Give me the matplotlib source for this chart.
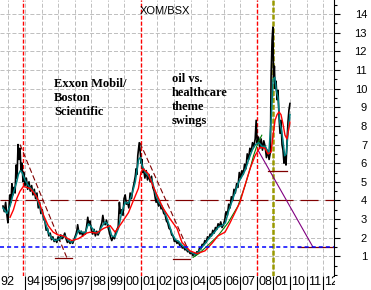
import numpy as np
import matplotlib
matplotlib.use("Agg")
import matplotlib.pyplot as plt
from matplotlib.patches import Rectangle
from matplotlib.ticker import MultipleLocator, NullFormatter

# XOM/BSX ratio (decimal years)
bk_year = [1992.67, 1992.75, 1992.83, 1992.91, 1992.97, 1993.03, 1993.09, 1993.15, 1993.21, 1993.27,
           1993.33, 1993.40, 1993.46, 1993.52, 1993.58, 1993.64, 1993.70, 1993.76, 1993.82, 1993.88,
           1993.94, 1994.00, 1994.08, 1994.16, 1994.24, 1994.32, 1994.40, 1994.48, 1994.56, 1994.64,
           1994.72, 1994.80, 1994.88, 1994.96, 1995.04, 1995.12, 1995.20, 1995.28, 1995.36, 1995.44,
           1995.52, 1995.60, 1995.68, 1995.76, 1995.84, 1995.92, 1996.00, 1996.08, 1996.16, 1996.24,
           1996.32, 1996.40, 1996.48, 1996.56, 1996.64, 1996.72, 1996.80, 1996.88, 1996.96, 1997.04,
           1997.12, 1997.18, 1997.24, 1997.32, 1997.40, 1997.48, 1997.56, 1997.64, 1997.72, 1997.79,
           1997.85, 1997.93, 1998.01, 1998.09, 1998.17, 1998.25, 1998.33, 1998.41, 1998.49, 1998.57,
           1998.64, 1998.70, 1998.76, 1998.84, 1998.92, 1999.00, 1999.08, 1999.16, 1999.24, 1999.32,
           1999.40, 1999.48, 1999.56, 1999.63, 1999.70, 1999.76, 1999.84, 1999.92, 1999.98, 2000.05,
           2000.12, 2000.20, 2000.27, 2000.35, 2000.43, 2000.51, 2000.58, 2000.66, 2000.71, 2000.76,
           2000.81, 2000.86, 2000.90, 2000.96, 2001.01, 2001.06, 2001.11, 2001.16, 2001.24, 2001.32,
           2001.40, 2001.48, 2001.56, 2001.64, 2001.72, 2001.80, 2001.87, 2001.92, 2001.98, 2002.06,
           2002.14, 2002.22, 2002.30, 2002.38, 2002.46, 2002.54, 2002.62, 2002.70, 2002.78, 2002.86,
           2002.94, 2003.02, 2003.10, 2003.18, 2003.26, 2003.34, 2003.42, 2003.50, 2003.58, 2003.66,
           2003.74, 2003.82, 2003.90, 2003.98, 2004.06, 2004.14, 2004.22, 2004.30, 2004.38, 2004.46,
           2004.54, 2004.62, 2004.70, 2004.78, 2004.86, 2004.94, 2005.02, 2005.10, 2005.18, 2005.26,
           2005.34, 2005.42, 2005.50, 2005.58, 2005.66, 2005.74, 2005.82, 2005.90, 2005.98, 2006.06,
           2006.14, 2006.22, 2006.30, 2006.38, 2006.46, 2006.54, 2006.62, 2006.70, 2006.78, 2006.86,
           2006.94, 2007.02, 2007.10, 2007.18, 2007.26, 2007.34, 2007.42, 2007.50, 2007.58, 2007.66,
           2007.74, 2007.82, 2007.90, 2007.96, 2008.02, 2008.10, 2008.18, 2008.26, 2008.34, 2008.42,
           2008.50, 2008.58, 2008.66, 2008.74, 2008.82, 2008.86, 2008.92, 2008.97, 2009.01, 2009.06,
           2009.10, 2009.16, 2009.22, 2009.28, 2009.34, 2009.40, 2009.46, 2009.52, 2009.58, 2009.64,
           2009.70, 2009.76, 2009.82, 2009.88, 2009.94, 2010.00]
bk_val = [3.7, 3.4, 3.9, 3.2, 2.8, 3.6, 4.3, 3.9, 4.9, 4.3,
          4.7, 4.4, 5.9, 5.2, 7.0, 6.2, 6.8, 5.6, 6.0, 5.0,
          5.5, 4.8, 5.2, 4.6, 5.0, 4.5, 4.8, 4.3, 4.6, 4.1,
          4.4, 3.6, 3.9, 3.3, 3.5, 3.0, 2.9, 2.4, 2.5, 2.1,
          2.25, 1.9, 2.05, 1.8, 1.9, 1.75, 2.05, 1.85, 2.15, 1.95,
          2.05, 2.25, 1.95, 1.75, 1.85, 1.7, 1.8, 1.7, 1.9, 2.1,
          2.3, 2.7, 2.35, 2.2, 2.35, 2.1, 2.3, 2.2, 2.6, 3.1,
          2.7, 2.9, 2.4, 2.2, 2.45, 2.1, 2.35, 2.15, 2.3, 2.6,
          2.8, 3.2, 2.85, 2.7, 2.95, 2.6, 2.35, 2.05, 1.85, 2.05,
          1.95, 2.3, 2.45, 2.6, 3.9, 3.3, 3.5, 3.2, 4.1, 4.3,
          3.8, 3.9, 3.6, 4.4, 4.1, 4.6, 4.9, 5.3, 5.7, 5.4,
          6.4, 6.8, 7.1, 6.6, 6.0, 6.2, 5.5, 5.7, 5.2, 5.6,
          5.1, 5.4, 5.0, 5.3, 4.7, 4.5, 4.1, 3.9, 4.1, 3.7,
          3.9, 3.55, 3.6, 3.3, 3.25, 2.9, 2.8, 2.5, 2.45, 2.15,
          2.1, 1.8, 1.85, 1.7, 1.8, 1.6, 1.65, 1.45, 1.5, 1.35,
          1.4, 1.25, 1.3, 1.15, 1.2, 1.05, 1.15, 1.05, 1.25, 1.2,
          1.45, 1.4, 1.65, 1.6, 1.85, 1.75, 2.05, 1.95, 2.2, 2.1,
          2.4, 2.25, 2.55, 2.45, 2.75, 2.6, 2.85, 2.55, 2.7, 2.95,
          3.4, 3.2, 3.8, 3.6, 4.2, 4.0, 4.6, 4.4, 4.9, 4.7,
          5.5, 5.2, 5.6, 5.4, 5.95, 5.7, 6.5, 6.2, 6.8, 6.6,
          7.1, 6.9, 7.3, 8.3, 7.1, 7.4, 6.8, 7.3, 6.7, 7.2,
          6.9, 6.3, 6.7, 6.2, 6.6, 10.6, 12.6, 13.3, 10.6, 11.2,
          10.0, 10.4, 9.4, 9.9, 8.5, 7.6, 8.3, 7.0, 6.7, 6.0,
          6.4, 5.9, 7.1, 8.2, 8.85, 9.2]

# short moving average (teal)
ma_s_year = [1992.67, 1992.90, 1993.10, 1993.30, 1993.50, 1993.60, 1993.72, 1993.82, 1994.00, 1994.20,
             1994.40, 1994.60, 1994.80, 1995.00, 1995.20, 1995.40, 1995.60, 1995.80, 1996.02, 1996.22,
             1996.42, 1996.62, 1996.82, 1997.02, 1997.22, 1997.42, 1997.63, 1997.83, 1998.03, 1998.23,
             1998.43, 1998.64, 1998.84, 1999.04, 1999.24, 1999.44, 1999.64, 1999.85, 2000.05, 2000.25,
             2000.45, 2000.66, 2000.86, 2000.96, 2001.06, 2001.26, 2001.46, 2001.66, 2001.87, 2002.07,
             2002.27, 2002.47, 2002.67, 2002.87, 2003.08, 2003.28, 2003.48, 2003.68, 2003.88, 2004.08,
             2004.28, 2004.48, 2004.69, 2004.89, 2005.09, 2005.29, 2005.49, 2005.70, 2005.90, 2006.10,
             2006.30, 2006.50, 2006.71, 2006.91, 2007.11, 2007.31, 2007.51, 2007.72, 2007.92, 2008.12,
             2008.32, 2008.52, 2008.72, 2008.88, 2008.98, 2009.08, 2009.18, 2009.28, 2009.38, 2009.48,
             2009.58, 2009.68, 2009.78, 2009.88, 2010.00]
ma_s_val = [3.6, 3.3, 3.7, 4.4, 5.0, 5.4, 5.6, 5.5, 5.1, 4.8,
            4.6, 4.4, 3.9, 3.4, 2.9, 2.3, 2.0, 1.85, 1.9, 2.05,
            2.1, 1.85, 1.75, 1.95, 2.4, 2.3, 2.25, 2.75, 2.55, 2.3,
            2.25, 2.6, 2.85, 2.7, 2.1, 2.05, 2.5, 3.4, 3.9, 3.85,
            4.3, 5.0, 6.2, 6.3, 5.9, 5.5, 5.3, 5.1, 4.4, 3.9,
            3.7, 3.3, 2.8, 2.25, 1.9, 1.8, 1.6, 1.45, 1.3, 1.2,
            1.1, 1.25, 1.5, 1.7, 1.95, 2.15, 2.35, 2.6, 2.65, 2.8,
            3.45, 3.95, 4.5, 5.0, 5.3, 5.65, 6.2, 6.7, 7.0, 7.1,
            6.9, 6.9, 6.5, 8.5, 10.5, 10.6, 9.9, 9.5, 8.2, 7.8,
            7.2, 6.4, 6.5, 7.6, 8.6]

# long moving average (red)
ma_l_year = [1993.10, 1993.30, 1993.50, 1993.70, 1993.90, 1994.10, 1994.30, 1994.50, 1994.70, 1994.90,
             1995.10, 1995.40, 1995.70, 1996.00, 1996.30, 1996.60, 1996.82, 1997.22, 1997.50, 1997.72,
             1997.93, 1998.33, 1998.74, 1999.14, 1999.44, 1999.84, 2000.25, 2000.50, 2000.85, 2001.00,
             2001.13, 2001.43, 2001.72, 2002.02, 2002.33, 2002.77, 2003.18, 2003.48, 2003.96, 2004.39,
             2004.87, 2005.29, 2005.65, 2006.08, 2006.38, 2006.68, 2006.98, 2007.28, 2007.59, 2007.89,
             2008.19, 2008.49, 2008.67, 2008.86, 2008.98, 2009.10, 2009.22, 2009.34, 2009.46, 2009.58,
             2009.70, 2009.82, 2009.94, 2010.00]
ma_l_val = [3.1, 3.5, 4.1, 4.5, 4.75, 4.7, 4.65, 4.45, 4.2, 3.8,
            3.25, 2.65, 2.3, 2.15, 2.1, 1.95, 1.85, 1.95, 2.1, 2.25,
            2.3, 2.25, 2.5, 2.65, 2.3, 2.8, 3.35, 3.9, 4.65, 5.5,
            5.7, 5.45, 4.8, 4.2, 3.6, 3.0, 2.5, 1.75, 1.3, 1.15,
            1.3, 1.7, 2.1, 2.3, 2.8, 3.35, 3.9, 4.8, 5.7, 6.4,
            6.85, 6.8, 6.5, 6.6, 7.5, 8.3, 8.6, 8.75, 8.6, 8.1,
            7.5, 7.3, 7.9, 8.2]

# rising trend curve (green)
trend_year = [2004.15, 2004.50, 2005.05, 2005.65, 2006.26, 2006.86, 2007.29, 2007.59, 2007.80, 2008.07, 2008.30]
trend_val = [0.95, 1.15, 1.6, 2.1, 2.8, 3.7, 4.8, 5.7, 6.4, 7.1, 7.5]

# annotation lines
fall1 = ([1993.70, 1996.54], [7.0, 0.9])
floor1 = ([1995.81, 1996.84], [0.9, 0.9])
fall2 = ([2000.94, 2003.96], [7.1, 1.15])
floor2 = ([2002.94, 2003.96], [0.85, 0.85])
fall3 = ([2008.07, 2011.39], [6.7, 1.5])
floor3 = ([2010.49, 2012.66], [1.5, 1.5])
support3 = ([2008.67, 2009.82], [5.6, 5.6])
red_marks = [1993.90, 2000.98, 2007.98]
olive_mark = 2008.98

year_ticks = list(range(1994, 2013))
year_labels = ["94", "95", "96", "97", "98", "99", "00", "01", "02", "03", "04",
               "05", "06", "07", "08", "01", "10", "11", "12"]

plt.rcParams.update({
    "font.family": "Liberation Sans",
    "lines.scale_dashes": False,
})

W, H = 371, 290
fig = plt.figure(figsize=(W / 100, H / 100), dpi=100)
ax = fig.add_axes([0, 1 - 276 / H, 334 / W, 276 / H])
ax.set_xlim(1992.49, 2012.66)
ax.set_ylim(-0.05, 14.75)

# grid
grid_kw = dict(color="#c0c0c0", lw=0.72, ls=(0, (2.9, 1.4)), zorder=0)
for yr in range(1993, 2013):
    ax.axvline(yr, **grid_kw)
for v in range(1, 15):
    ax.axhline(v, **grid_kw)

for yr in red_marks:
    ax.axvline(yr, color="#ff0000", lw=1.0, ls=(0, (2.9, 1.4)), zorder=1)
ax.axvline(olive_mark, color="#999900", lw=1.8, ls=(0, (3.6, 1.4)), zorder=1)

ax.axhline(4, color="#800000", lw=0.85, ls=(0, (13, 5)), zorder=1)
ax.axhline(1.5, color="#0000ff", lw=1.1, ls=(0, (2.9, 2.2)), zorder=4)

ax.plot(*fall1, color="#800000", lw=0.8, ls=(0, (4, 2)), zorder=1)
ax.plot(*fall2, color="#800000", lw=0.8, ls=(0, (4, 2)), zorder=1)
ax.plot(*floor1, color="#800000", lw=0.9, zorder=1)
ax.plot(*floor2, color="#800000", lw=0.9, zorder=1)
ax.plot(*fall3, color="#800080", lw=0.8, zorder=1)
ax.plot(*floor3, color="#800000", lw=0.9, zorder=1)
ax.plot(*support3, color="#800000", lw=0.9, zorder=1)

ax.plot(bk_year, bk_val, color="black", lw=1.2, zorder=2)
ax.plot(trend_year, trend_val, color="#008000", lw=0.8, zorder=2)
ax.plot(ma_s_year, ma_s_val, color="#008080", lw=1.1, zorder=3)
ax.plot(ma_l_year, ma_l_val, color="#ff0000", lw=1.0, zorder=3)

# axes styling: only the right spine
for side in ("left", "top", "bottom"):
    ax.spines[side].set_visible(False)
ax.spines["right"].set_linewidth(0.8)
ax.yaxis.tick_right()
ax.set_yticks(range(1, 15))
ax.yaxis.set_minor_locator(MultipleLocator(0.5))
ax.yaxis.set_minor_formatter(NullFormatter())
ax.tick_params(axis="y", which="major", length=4.3, width=0.8, pad=19.5, labelsize=8)
ax.tick_params(axis="y", which="minor", length=2.5, width=0.8)
for lab in ax.get_yticklabels():
    lab.set_horizontalalignment("right")

ax.set_xticks(year_ticks)
ax.set_xticklabels([])
ax.tick_params(axis="x", which="major", length=10.5, width=0.8, direction="out")

xt = ax.get_xaxis_transform()
ax.text(1992.52, -0.021, "92", transform=xt, ha="left", va="center", fontsize=9, clip_on=False)
for yr, lab in zip(year_ticks, year_labels):
    ax.text(yr + 0.09, -0.021, lab, transform=xt, ha="left", va="center", fontsize=9)

# the last year label is cut off at the axis edge in the original
fig.add_artist(Rectangle((335 / W, 0), 1, 14 / H, transform=fig.transFigure,
                         facecolor="white", edgecolor="none", zorder=5))

ax.text(0.419, 0.978, "XOM/BSX", transform=ax.transAxes, fontsize=8, va="top", ha="left")
ax.text(0.162, 0.718, "Exxon Mobil/\nBoston\nScientific", transform=ax.transAxes,
        family="Liberation Serif", fontweight="bold", fontsize=9, va="top", ha="left",
        linespacing=1.22)
ax.text(0.515, 0.735, "oil vs.\nhealthcare\ntheme\nswings", transform=ax.transAxes,
        family="Liberation Serif", fontweight="bold", fontsize=9, va="top", ha="left",
        linespacing=1.22)

fig.savefig("out.png", dpi=100, facecolor="white")
